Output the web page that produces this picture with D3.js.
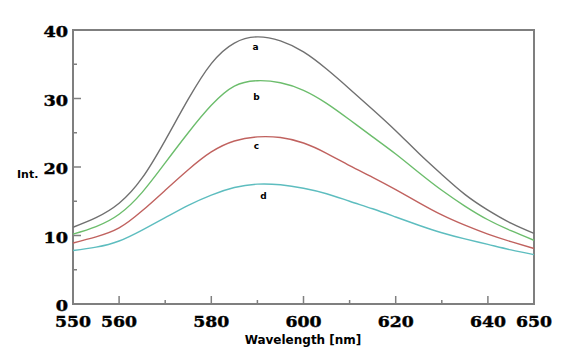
<!DOCTYPE html>
<html>
<head>
<meta charset="utf-8">
<script src="https://cdn.jsdelivr.net/npm/d3@7"></script>
<style>
  body { margin: 0; background: #fff; }
  svg { display: block; }
</style>
</head>
<body>
<svg id="chart" width="575" height="358"></svg>
<script>
const wavelengths = [550, 555, 560, 565, 570, 575, 580, 585, 590, 595, 600,
                     605, 610, 615, 620, 625, 630, 635, 640, 645, 650];

const seriesA = [11.2, 12.6, 14.7, 18.4, 23.9, 29.9, 35.1, 38.1, 39.0, 38.4, 36.8,
                 34.3, 31.4, 28.4, 25.3, 22.0, 18.9, 16.0, 13.7, 11.8, 10.3];
const seriesB = [10.2, 11.3, 13.1, 16.3, 20.6, 25.0, 29.0, 31.8, 32.6, 32.3, 31.2,
                 29.3, 26.9, 24.4, 21.9, 19.2, 16.6, 14.3, 12.3, 10.7, 9.3];
const seriesC = [8.9, 9.8, 11.1, 13.6, 16.6, 19.6, 22.2, 23.8, 24.4, 24.3, 23.5,
                 22.0, 20.2, 18.5, 16.7, 14.8, 13.0, 11.5, 10.2, 9.1, 8.1];
const seriesD = [7.8, 8.3, 9.2, 10.8, 12.6, 14.4, 15.9, 17.0, 17.5, 17.4, 16.9,
                 16.1, 15.0, 13.9, 12.7, 11.5, 10.4, 9.5, 8.7, 7.9, 7.2];

const seriesNames = ['a', 'b', 'c', 'd'];
const seriesColors = ['#707070', '#6cbd6c', '#c0625f', '#5dbdbf'];
const labelSpots = [[589.6, 37.1], [589.8, 29.8], [589.8, 22.6], [591.3, 15.3]];

const xTickLabels = [550, 560, 580, 600, 620, 640, 650];
const yTickLabels = [0, 10, 20, 30, 40];

const svg = d3.select('#chart');
const plotLeft = 73, plotRight = 534, plotTop = 30, plotBottom = 304;

const x = d3.scaleLinear().domain([550, 650]).range([plotLeft, plotRight]);
const y = d3.scaleLinear().domain([0, 40]).range([plotBottom, plotTop]);

const frameColor = '#7f7f7f';
const numFont = '"DejaVu Serif", serif';

// frame
svg.append('path')
    .attr('d', `M${plotLeft},${plotBottom}V${plotTop}H${plotRight}V${plotBottom}Z`)
    .attr('fill', 'none')
    .attr('stroke', frameColor)
    .attr('stroke-width', 2);

// x ticks (inward)
d3.range(560, 650, 10).forEach((v) => {
  const len = v % 20 === 0 ? 8 : 4;
  svg.append('line')
      .attr('x1', x(v)).attr('x2', x(v))
      .attr('y1', plotBottom).attr('y2', plotBottom - len)
      .attr('stroke', frameColor)
      .attr('stroke-width', 1.5);
});

// y ticks (inward)
d3.range(5, 40, 5).forEach((v) => {
  const len = v % 10 === 0 ? 8 : 4;
  svg.append('line')
      .attr('x1', plotLeft).attr('x2', plotLeft + len)
      .attr('y1', y(v)).attr('y2', y(v))
      .attr('stroke', frameColor)
      .attr('stroke-width', 1.5);
});

// tick labels, heavy wide serif digits
svg.selectAll('text.xlab')
    .data(xTickLabels)
    .enter()
    .append('text')
      .attr('class', 'xlab')
      .attr('x', (d) => x(d))
      .attr('y', plotBottom + 23)
      .attr('text-anchor', 'middle')
      .attr('textLength', (d) => String(d).length * 12)
      .attr('lengthAdjust', 'spacingAndGlyphs')
      .style('font-family', numFont)
      .style('font-weight', 900)
      .style('font-size', '14px')
      .style('fill', '#000')
      .style('stroke', '#000')
      .style('stroke-width', 0.4)
      .text((d) => d);

svg.selectAll('text.ylab')
    .data(yTickLabels)
    .enter()
    .append('text')
      .attr('class', 'ylab')
      .attr('x', (d) => 68 - String(d).length * 12.3)
      .attr('y', (d) => y(d) + 7)
      .attr('textLength', (d) => String(d).length * 12.3)
      .attr('lengthAdjust', 'spacingAndGlyphs')
      .style('font-family', numFont)
      .style('font-weight', 900)
      .style('font-size', '14px')
      .style('fill', '#000')
      .style('stroke', '#000')
      .style('stroke-width', 0.4)
      .text((d) => d);

// axis titles
svg.append('text')
    .attr('x', 303)
    .attr('y', 344)
    .attr('text-anchor', 'middle')
    .style('font-family', '"DejaVu Sans", sans-serif')
    .style('font-weight', 700)
    .style('font-size', '12px')
    .text('Wavelength [nm]');

svg.append('text')
    .attr('x', 17)
    .attr('y', 178)
    .style('font-family', '"DejaVu Sans", sans-serif')
    .style('font-weight', 700)
    .style('font-size', '11px')
    .text('Int.');

// curves
const allSeries = [seriesA, seriesB, seriesC, seriesD];
const line = d3.line()
    .x((d, i) => x(wavelengths[i]))
    .y((d) => y(d))
    .curve(d3.curveNatural);

svg.selectAll('path.curve')
    .data(allSeries)
    .enter()
    .append('path')
      .attr('class', 'curve')
      .attr('d', line)
      .attr('fill', 'none')
      .attr('stroke', (d, i) => seriesColors[i])
      .attr('stroke-width', 1.4);

// curve letters
svg.selectAll('text.tag')
    .data(labelSpots)
    .enter()
    .append('text')
      .attr('class', 'tag')
      .attr('x', (d) => x(d[0]))
      .attr('y', (d) => y(d[1]))
      .attr('text-anchor', 'middle')
      .style('font-family', '"DejaVu Sans", sans-serif')
      .style('font-weight', 700)
      .style('font-size', '9px')
      .text((d, i) => seriesNames[i]);
</script>
</body>
</html>
